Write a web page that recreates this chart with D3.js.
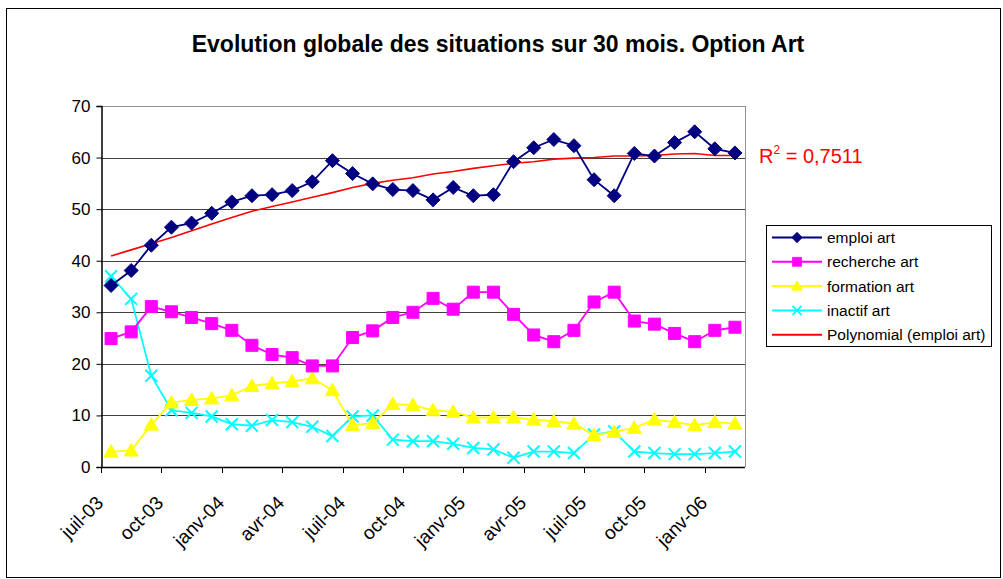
<!DOCTYPE html>
<html>
<head>
<meta charset="utf-8">
<script src="https://cdn.jsdelivr.net/npm/d3@7"></script>
<style>
  body { margin: 0; background: #fff; }
  text { font-family: "Liberation Sans", Arial, sans-serif; }
</style>
</head>
<body>
<svg id="chart"></svg>
<script>
// months shown on the axis (one category per month)
const months = ["2003-07","2003-08","2003-09","2003-10","2003-11","2003-12",
  "2004-01","2004-02","2004-03","2004-04","2004-05","2004-06","2004-07","2004-08","2004-09","2004-10","2004-11","2004-12",
  "2005-01","2005-02","2005-03","2005-04","2005-05","2005-06","2005-07","2005-08","2005-09","2005-10","2005-11","2005-12",
  "2006-01","2006-02"];
const tickMonths = ["2003-07","2003-10","2004-01","2004-04","2004-07","2004-10","2005-01","2005-04","2005-07","2005-10","2006-01"];
const tickLabels = ["juil-03","oct-03","janv-04","avr-04","juil-04","oct-04","janv-05","avr-05","juil-05","oct-05","janv-06"];
const yTicks = [0, 10, 20, 30, 40, 50, 60, 70];

const emploi = [35.2,38.1,43.0,46.5,47.3,49.2,51.4,52.6,52.8,53.6,55.3,59.4,56.9,54.9,53.8,53.6,
  51.8,54.2,52.6,52.8,59.2,61.9,63.5,62.3,55.7,52.6,60.8,60.3,62.9,65.0,61.7,60.9];
const recherche = [24.9,26.2,31.1,30.1,29.0,27.8,26.5,23.6,21.8,21.2,19.6,19.6,25.1,26.4,29.0,30.0,
  32.7,30.6,33.9,33.9,29.6,25.6,24.3,26.5,32.0,33.9,28.3,27.7,25.9,24.3,26.5,27.1];
const formation = [3.0,3.2,8.2,12.5,13.0,13.3,13.9,15.7,16.2,16.6,17.2,14.9,8.1,8.5,12.2,12.0,
  11.0,10.7,9.6,9.6,9.6,9.2,8.9,8.4,6.2,6.8,7.6,9.2,8.7,8.1,8.7,8.4];
const inactif = [37.0,32.6,17.7,11.0,10.5,9.8,8.3,8.0,9.1,8.7,7.8,6.0,9.8,10.0,5.3,5.0,
  5.0,4.5,3.7,3.4,1.8,3.0,3.0,2.7,6.3,6.9,3.0,2.7,2.5,2.5,2.7,3.0];
// polynomial trend of emploi art
const trend = [40.9,42.1,43.3,44.5,45.8,47.1,48.4,49.6,50.5,51.4,52.3,53.2,54.2,55.0,55.6,56.1,
  56.8,57.3,57.9,58.4,58.9,59.2,59.7,59.9,60.0,60.3,60.3,60.4,60.7,60.8,60.4,60.4];

const title = "Evolution globale des situations sur 30 mois. Option Art";

const seriesList = [
  { name: "emploi art", values: emploi, color: "#000080", marker: "diamond" },
  { name: "recherche art", values: recherche, color: "#FF00FF", marker: "square" },
  { name: "formation art", values: formation, color: "#FFFF00", marker: "triangle" },
  { name: "inactif art", values: inactif, color: "#00FFFF", marker: "x" },
  { name: "Polynomial (emploi art)", values: trend, color: "#FF0000", marker: null }
];

const W = 1003, H = 579;
const plot = { left: 101, right: 745, top: 106, bottom: 467 };

const svg = d3.select("#chart").attr("width", W).attr("height", H);

// outer frame
svg.append("rect")
  .attr("x", 6.5).attr("y", 8.5)
  .attr("width", 994).attr("height", 569)
  .attr("fill", "#fff").attr("stroke", "#000").attr("stroke-width", 1);

const xScale = d3.scaleBand().domain(months).range([plot.left, plot.right]).padding(0);
const yScale = d3.scaleLinear().domain([0, 70]).range([plot.bottom, plot.top]);
const cx = i => xScale(months[i]) + xScale.bandwidth() / 2;

// gridlines
svg.append("g").selectAll("line")
  .data(yTicks.filter(d => d > 0))
  .join("line")
    .attr("x1", plot.left).attr("x2", plot.right)
    .attr("y1", d => Math.round(yScale(d)) + 0.5).attr("y2", d => Math.round(yScale(d)) + 0.5)
    .attr("stroke", d => d === 70 ? "#909090" : "#404040").attr("stroke-width", 1);

// plot border on the right
svg.append("line")
  .attr("x1", plot.right + 0.5).attr("x2", plot.right + 0.5)
  .attr("y1", plot.top).attr("y2", plot.bottom)
  .attr("stroke", "#909090");

// y axis
const yAxis = d3.axisLeft(yScale).tickValues(yTicks).tickSize(5).tickPadding(6);
const yAxisG = svg.append("g")
  .attr("transform", `translate(${plot.left + 0.5},0)`)
  .call(yAxis);
yAxisG.select(".domain").attr("stroke", "#000").attr("stroke-width", 1.5);
yAxisG.selectAll(".tick line").attr("stroke", "#000");
yAxisG.selectAll(".tick text")
  .attr("font-size", 17).attr("fill", "#000")
  .style("font-family", "'Liberation Sans', Arial, sans-serif");

// x axis (ticks at month starts)
svg.append("line")
  .attr("x1", plot.left).attr("x2", plot.right)
  .attr("y1", plot.bottom + 0.5).attr("y2", plot.bottom + 0.5)
  .attr("stroke", "#000").attr("stroke-width", 1.5);
const xTicks = svg.append("g").selectAll("g")
  .data(tickMonths)
  .join("g")
    .attr("transform", (d) => `translate(${Math.round(xScale(d)) + 0.5},${plot.bottom})`);
xTicks.append("line").attr("y1", 0).attr("y2", 6).attr("stroke", "#000");
xTicks.append("text")
  .attr("text-anchor", "end")
  .attr("transform", "translate(3,37) rotate(-45)")
  .attr("font-size", 19)
  .text((d, i) => tickLabels[i]);

// marker shapes
const markerPath = (type) => {
  if (type === "diamond") return "M0,-7L7,0L0,7L-7,0Z";
  if (type === "square") return "M-6,-6H6V6H-6Z";
  if (type === "triangle") return "M0,-7L7,5.5H-7Z";
  if (type === "x") return "M-6,-6L6,6M-6,6L6,-6";
  return null;
};

const line = d3.line().x((d, i) => cx(i)).y(d => yScale(d));

// draw the series: emploi on top, so go in reverse order
const drawOrder = [4, 3, 2, 1, 0];
drawOrder.forEach(k => {
  const s = seriesList[k];
  const g = svg.append("g");
  g.append("path")
    .attr("d", line(s.values))
    .attr("fill", "none")
    .attr("stroke", s.color)
    .attr("stroke-width", s.marker ? 1.8 : 1.6);
  if (s.marker) {
    g.selectAll("path.m").data(s.values)
      .join("path")
        .attr("class", "m")
        .attr("transform", (d, i) => `translate(${cx(i)},${yScale(d)})`)
        .attr("d", markerPath(s.marker))
        .attr("fill", s.marker === "x" ? "none" : s.color)
        .attr("stroke", s.color)
        .attr("stroke-width", s.marker === "x" ? 2 : 1);
  }
});

// title
svg.append("text")
  .attr("x", 498).attr("y", 52)
  .attr("text-anchor", "middle")
  .attr("font-size", 23).attr("font-weight", "bold")
  .text(title);

// R² label
const r2 = svg.append("text")
  .attr("x", 759).attr("y", 163)
  .attr("font-size", 20).attr("fill", "#FF0000");
r2.append("tspan").text("R");
r2.append("tspan").attr("font-size", 12).attr("dy", -9).text("2");
r2.append("tspan").attr("dy", 9).text(" = 0,7511");

// legend
const legend = svg.append("g").attr("transform", "translate(766,225)");
legend.append("rect")
  .attr("x", 0.5).attr("y", 0.5).attr("width", 225).attr("height", 121)
  .attr("fill", "#fff").attr("stroke", "#000");
const items = legend.selectAll("g.item").data(seriesList)
  .join("g")
    .attr("class", "item")
    .attr("transform", (d, i) => `translate(0,${12.5 + i * 24.3})`);
items.append("line")
  .attr("x1", 6).attr("x2", 56)
  .attr("stroke", d => d.color).attr("stroke-width", 2);
items.filter(d => d.marker).append("path")
  .attr("transform", "translate(31,0) scale(0.75)")
  .attr("d", d => markerPath(d.marker))
  .attr("fill", d => d.marker === "x" ? "none" : d.color)
  .attr("stroke", d => d.color)
  .attr("stroke-width", d => d.marker === "x" ? 2.5 : 1);
items.append("text")
  .attr("x", 61).attr("y", 5.5)
  .attr("font-size", 15.5)
  .text(d => d.name);
</script>
</body>
</html>
